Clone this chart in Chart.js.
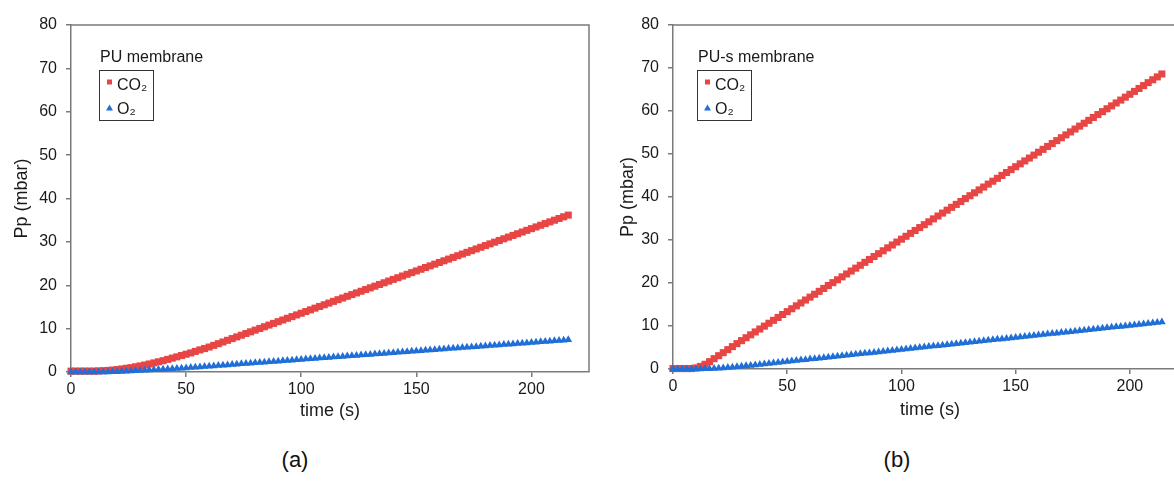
<!DOCTYPE html>
<html>
<head>
<meta charset="utf-8">
<script src="https://cdn.jsdelivr.net/npm/chart.js@4"></script>
<style>
  html, body { margin: 0; padding: 0; background: #fff; width: 1174px; height: 491px; overflow: hidden; position: relative;
    font-family: "Liberation Sans", Arial, sans-serif; }
  .panel { position: absolute; top: 0; }
  .cap { position: absolute; top: 447px; font-size: 22px; color: #111; transform: translateX(-50%); }
</style>
</head>
<body>
<div class="panel" style="left:0"><canvas id="chartA" width="600" height="430"></canvas></div>
<div class="panel" style="left:600px"><canvas id="chartB" width="600" height="430"></canvas></div>
<div class="cap" style="left:295px">(a)</div>
<div class="cap" style="left:897px">(b)</div>
<script>
// (a) PU membrane, time in s, partial pressure in mbar
const timeA = [0,2,4,6,8,10,12,14,16,18,20,22,24,26,28,30,32,34,36,38,40,42,44,46,48,50,52,54,56,58,60,
  62,64,66,68,70,72,74,76,78,80,82,84,86,88,90,92,94,96,98,100,102,104,106,108,110,112,114,116,118,120,
  122,124,126,128,130,132,134,136,138,140,142,144,146,148,150,152,154,156,158,160,162,164,166,168,170,172,174,176,178,180,
  182,184,186,188,190,192,194,196,198,200,202,204,206,208,210,212,214,216]
const co2A = [0.2,0.2,0.2,0.2,0.2,0.2,0.25,0.3,0.35,0.45,0.55,0.7,0.85,1.0,1.2,1.4,1.6,1.85,2.1,2.35,2.6,2.9,3.2,3.5,3.8,4.1,4.4,4.75,5.1,5.4,5.75,
  6.14,6.53,6.92,7.31,7.70,8.09,8.48,8.87,9.26,9.65,
  10.04,10.43,10.82,11.21,11.60,11.99,12.38,12.77,13.16,13.55,
  13.94,14.33,14.72,15.11,15.50,15.89,16.28,16.67,17.06,17.45,
  17.84,18.23,18.62,19.01,19.40,19.79,20.18,20.57,20.96,21.35,
  21.74,22.13,22.52,22.91,23.30,23.69,24.08,24.47,24.86,25.25,
  25.64,26.03,26.42,26.81,27.20,27.59,27.98,28.37,28.76,29.15,
  29.54,29.93,30.32,30.71,31.10,31.49,31.88,32.27,32.66,33.05,
  33.44,33.83,34.22,34.61,35.00,35.39,35.78,36.17]
const o2A = [0,0,0,0,0,0,0,0,0.02,0.05,0.08,0.12,0.17,0.22,0.28,0.34,0.40,0.46,0.52,0.58,0.64,0.70,0.76,0.82,0.88,
  0.94,1.02,1.10,1.17,1.25,1.33,1.41,1.49,1.56,1.64,1.72,1.80,1.88,1.95,2.03,2.11,2.19,2.27,2.34,2.42,
  2.50,2.58,2.66,2.73,2.81,2.89,2.97,3.05,3.12,3.20,3.28,3.36,3.44,3.51,3.59,3.67,3.75,3.83,3.90,3.98,
  4.06,4.14,4.22,4.29,4.37,4.45,4.53,4.61,4.68,4.76,4.84,4.92,5.00,5.07,5.15,5.23,5.31,5.39,5.46,5.54,
  5.62,5.70,5.78,5.85,5.93,6.01,6.09,6.17,6.24,6.32,6.40,6.48,6.56,6.63,6.71,6.79,6.87,6.95,7.02,7.10,
  7.18,7.26,7.34,7.41]

// (b) PU-s membrane
const timeB = [0,2,4,6,8,10,12,14,16,18,20,22,24,26,28,30,32,34,36,38,40,42,44,46,48,50,52,54,56,58,60,
  62,64,66,68,70,72,74,76,78,80,82,84,86,88,90,92,94,96,98,100,102,104,106,108,110,112,114,116,118,120,
  122,124,126,128,130,132,134,136,138,140,142,144,146,148,150,152,154,156,158,160,162,164,166,168,170,172,174,176,178,180,
  182,184,186,188,190,192,194,196,198,200,202,204,206,208,210,212,214]
const co2B = [0.1,0.1,0.1,0.1,0.1,0.25,0.6,1.1,1.7,2.4,3.1,3.8,4.5,5.2,5.9,
  6.60,7.27,7.95,8.62,9.30,9.97,10.64,11.32,11.99,12.67,13.34,14.01,14.69,15.36,16.04,16.71,
  17.38,18.06,18.73,19.41,20.08,20.75,21.43,22.10,22.78,23.45,24.12,24.80,25.47,26.15,26.82,
  27.49,28.17,28.84,29.52,30.19,30.86,31.54,32.21,32.89,33.56,34.23,34.91,35.58,36.26,36.93,
  37.60,38.28,38.95,39.63,40.30,40.97,41.65,42.32,43.00,43.67,44.34,45.02,45.69,46.37,47.04,
  47.71,48.39,49.06,49.74,50.41,51.08,51.76,52.43,53.11,53.78,54.45,55.13,55.80,56.48,57.15,
  57.82,58.50,59.17,59.85,60.52,61.19,61.87,62.54,63.22,63.89,64.56,65.24,65.91,66.59,67.26,
  67.93,68.61]
const o2B = [0,0,0,0,0,0,0,0.03,0.07,0.12,0.18,0.25,0.33,0.42,0.52,0.62,0.73,0.84,0.95,1.06,1.17,1.28,
  1.40,1.51,1.62,1.74,1.85,1.96,2.07,2.18,2.30,2.41,2.52,2.63,2.74,2.86,2.97,3.08,3.19,3.30,
  3.42,3.53,3.64,3.75,3.86,3.98,4.09,4.20,4.31,4.42,4.54,4.65,4.76,4.87,4.98,5.10,5.21,5.32,
  5.43,5.54,5.66,5.77,5.88,5.99,6.10,6.22,6.33,6.44,6.55,6.66,6.78,6.89,7.00,7.11,7.22,7.34,
  7.45,7.56,7.67,7.78,7.90,8.01,8.12,8.23,8.34,8.46,8.57,8.68,8.79,8.90,9.02,9.13,9.24,9.35,
  9.46,9.58,9.69,9.80,9.91,10.02,10.14,10.25,10.36,10.47,10.58,10.70,10.81,10.92]

const xTicks = [0, 50, 100, 150, 200]
const yTicks = [0, 10, 20, 30, 40, 50, 60, 70, 80]

const RED = '#e84545'
const BLUE = '#1f6fd6'
const AXIS = '#7a7a7a'
const TEXT = '#1a1a1a'
const FONT = '"Liberation Sans", Arial, sans-serif'

// top and right edges of the plot box
const framePlugin = {
  id: 'frame',
  beforeDatasetsDraw(chart) {
    const { ctx, chartArea: a } = chart
    ctx.save()
    ctx.strokeStyle = AXIS
    ctx.lineWidth = 1.5
    ctx.beginPath()
    ctx.moveTo(a.left, a.top)
    ctx.lineTo(a.right, a.top)
    ctx.lineTo(a.right, a.bottom)
    ctx.stroke()
    ctx.restore()
  },
}

// boxed legend with a caption above it
const boxLegend = {
  id: 'boxLegend',
  afterDraw(chart, args, opts) {
    const { ctx, chartArea: a } = chart
    const bx = a.left + opts.dx
    const by = a.top + 44.5
    ctx.save()
    ctx.fillStyle = TEXT
    ctx.font = '16px ' + FONT
    ctx.textBaseline = 'alphabetic'
    ctx.fillText(opts.title, bx + 1, by - 8)
    ctx.strokeStyle = '#333'
    ctx.lineWidth = 1
    ctx.strokeRect(Math.round(bx) + 0.5, Math.round(by) + 0.5, 54, 50)
    // CO2 square
    ctx.fillStyle = RED
    ctx.fillRect(bx + 8, by + 10, 5, 5)
    // O2 triangle
    ctx.fillStyle = BLUE
    ctx.beginPath()
    ctx.moveTo(bx + 10.5, by + 35)
    ctx.lineTo(bx + 14, by + 41)
    ctx.lineTo(bx + 7, by + 41)
    ctx.closePath()
    ctx.fill()
    ctx.fillStyle = TEXT
    ctx.font = '16px ' + FONT
    ctx.fillText('CO₂', bx + 18, by + 20)
    ctx.fillText('O₂', bx + 18, by + 44)
    ctx.restore()
  },
}

function makeChart(id, time, co2, o2, lay) {
  const pts = (ys) => time.map((t, i) => ({ x: t, y: ys[i] }))
  return new Chart(document.getElementById(id), {
    type: 'scatter',
    data: {
      datasets: [
        { label: 'CO₂', data: pts(co2), pointStyle: 'rect', pointRadius: 5, pointBorderWidth: 0,
          backgroundColor: RED, borderColor: RED, showLine: false, order: 2, clip: false },
        { label: 'O₂', data: pts(o2), pointStyle: 'triangle', pointRadius: 4.5, pointBorderWidth: 0,
          backgroundColor: BLUE, borderColor: BLUE, showLine: false, order: 1, clip: false },
      ],
    },
    options: {
      responsive: false,
      animation: false,
      devicePixelRatio: 1,
      layout: { padding: { left: 0, right: lay.padRight, top: 25, bottom: 0 } },
      plugins: {
        legend: { display: false },
        tooltip: { enabled: false },
        boxLegend: { title: lay.title, dx: lay.legendDx },
      },
      scales: {
        x: {
          type: 'linear', min: 0, max: 225,
          afterBuildTicks: (s) => { s.ticks = xTicks.map((v) => ({ value: v })) },
          afterFit: (s) => { s.height = lay.xHeight },
          ticks: { color: TEXT, font: { size: 16, family: FONT }, padding: 3, maxRotation: 0, autoSkip: false },
          grid: { drawOnChartArea: false, drawTicks: true, tickLength: 5, color: AXIS, lineWidth: 1.5 },
          border: { color: AXIS, width: 1.5 },
          title: { display: true, text: 'time (s)', color: TEXT, font: { size: 18, family: FONT },
            padding: { top: 0, bottom: lay.xTitlePad } },
        },
        y: {
          type: 'linear', min: 0, max: 80,
          afterBuildTicks: (s) => { s.ticks = yTicks.map((v) => ({ value: v })) },
          afterFit: (s) => { s.width = lay.yWidth },
          ticks: { color: TEXT, font: { size: 16, family: FONT }, padding: 9 },
          grid: { drawOnChartArea: false, drawTicks: true, tickLength: 5, color: AXIS, lineWidth: 1.5 },
          border: { color: AXIS, width: 1.5 },
          title: { display: true, text: 'Pp (mbar)', color: TEXT, font: { size: 18, family: FONT },
            padding: { top: lay.yTitlePad, bottom: 0 } },
        },
      },
    },
    plugins: [framePlugin, boxLegend],
  })
}

makeChart('chartA', timeA, co2A, o2A,
  { title: 'PU membrane', legendDx: 28, padRight: 11, xHeight: 58, yWidth: 71, xTitlePad: 8, yTitlePad: 11 })
makeChart('chartB', timeB, co2B, o2B,
  { title: 'PU-s membrane', legendDx: 24, padRight: 13, xHeight: 61, yWidth: 73, xTitlePad: 9, yTitlePad: 17 })
</script>
</body>
</html>
